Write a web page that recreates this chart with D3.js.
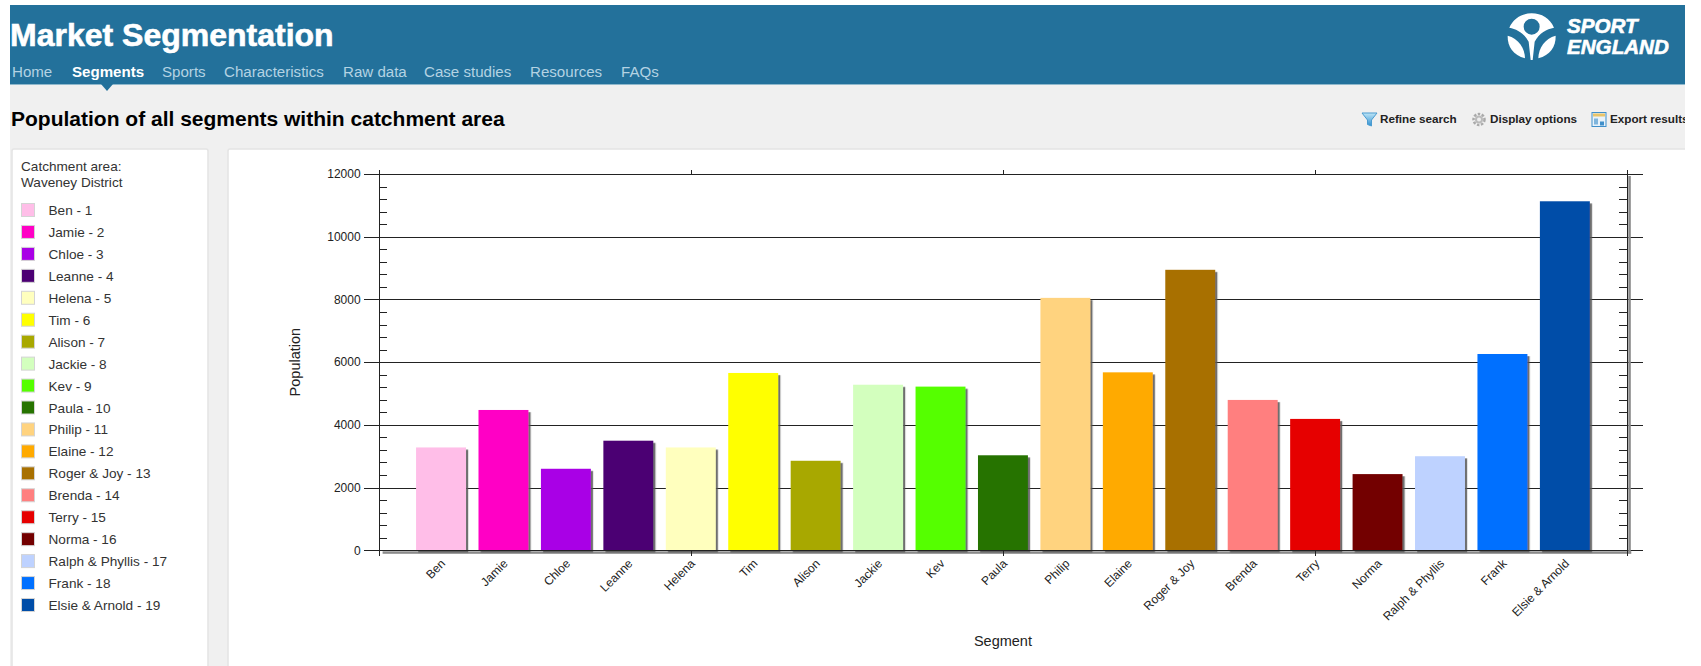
<!DOCTYPE html>
<html>
<head>
<meta charset="utf-8">
<title>Market Segmentation</title>
<script src="https://cdn.jsdelivr.net/npm/d3@7"></script>
<style>
	html, body { margin: 0; padding: 0; background: #fff; overflow: hidden; }
	text { font-family: "Liberation Sans", Arial, sans-serif; }
	.axis path, .axis line { stroke: #222; shape-rendering: crispEdges; }
	.axis text { font-size: 12px; fill: #222; }
</style>
</head>
<body>
<div id="page"></div>
<script>
// Chart data
const segments = ["Ben", "Jamie", "Chloe", "Leanne", "Helena", "Tim", "Alison", "Jackie", "Kev", "Paula",
	"Philip", "Elaine", "Roger & Joy", "Brenda", "Terry", "Norma", "Ralph & Phyllis", "Frank", "Elsie & Arnold"];
const population = [3280, 4475, 2600, 3495, 3280, 5655, 2855, 5280, 5220, 3030,
	8050, 5675, 8945, 4795, 4190, 2430, 3000, 6260, 11130];
const segmentColors = ["#ffbee8", "#ff00c5", "#a900e6", "#4c0073", "#ffffbe", "#ffff00", "#a8a800", "#d3ffbe", "#55ff00", "#267300",
	"#ffd37f", "#ffaa00", "#a87000", "#ff7f7f", "#e60000", "#730000", "#bed2ff", "#0070ff", "#004da8"];
const yMajorTicks = [0, 2000, 4000, 6000, 8000, 10000, 12000];
const yMinorTicks = [400, 800, 1200, 1600, 2400, 2800, 3200, 3600, 4400, 4800, 5200, 5600,
	6400, 6800, 7200, 7600, 8400, 8800, 9200, 9600, 10400, 10800, 11200, 11600];
const xMajorTicks = [0, 5, 10, 15, 20];
const navItems = ["Home", "Segments", "Sports", "Characteristics", "Raw data", "Case studies", "Resources", "FAQs"];
const navStarts = [12, 72, 162, 224, 343, 424, 530, 621];

const svg = d3.select("#page")
	.append("svg")
	.attr("width", 1701)
	.attr("height", 666)
	.style("display", "block");

const defs = svg.append("defs");

defs.append("filter")
	.attr("id", "barShadow")
	.attr("x", "-10%").attr("y", "-10%").attr("width", "125%").attr("height", "125%")
	.append("feDropShadow")
	.attr("dx", 2.2).attr("dy", 2.2).attr("stdDeviation", 0.7)
	.attr("flood-color", "#555").attr("flood-opacity", 0.85);

defs.append("clipPath")
	.attr("id", "pageClip")
	.append("rect")
	.attr("x", 10).attr("y", 5).attr("width", 1675).attr("height", 661);

defs.append("linearGradient")
	.attr("id", "funnelFill")
	.attr("x1", 0).attr("y1", 0).attr("x2", 0).attr("y2", 1)
	.selectAll("stop")
	.data([["0%", "#bfe6f7"], ["100%", "#2f8fd0"]])
	.enter()
	.append("stop")
	.attr("offset", d => d[0])
	.attr("stop-color", d => d[1]);

// ----------------------------
// Page furniture
// ----------------------------
const page = svg.append("g").attr("clip-path", "url(#pageClip)");

page.append("rect").attr("x", 10).attr("y", 84).attr("width", 1675).attr("height", 582).attr("fill", "#f0f0f0");
page.append("rect").attr("x", 10).attr("y", 5).attr("width", 1675).attr("height", 79).attr("fill", "#23719b");
page.append("rect").attr("x", 10).attr("y", 84).attr("width", 1675).attr("height", 1).attr("fill", "#8fb8cc");

page.append("text")
	.attr("x", 10).attr("y", 46)
	.attr("fill", "#fff")
	.attr("stroke", "#fff")
	.attr("stroke-width", 0.6)
	.attr("font-weight", "bold")
	.attr("font-size", 32)
	.text("Market Segmentation");

page.selectAll("text.nav")
	.data(navItems)
	.enter()
	.append("text")
	.attr("class", "nav")
	.attr("x", (d, i) => navStarts[i])
	.attr("y", 77)
	.attr("font-size", 15.1)
	.attr("font-weight", d => d === "Segments" ? "bold" : "normal")
	.attr("fill", d => d === "Segments" ? "#fff" : "#b4d3e3")
	.text(d => d);

// notch under the active menu item
page.append("path").attr("d", "M101,84 L113,84 L107,91 Z").attr("fill", "#23719b");

page.append("text")
	.attr("x", 11).attr("y", 126)
	.attr("font-weight", "bold")
	.attr("font-size", 21)
	.attr("fill", "#000")
	.text("Population of all segments within catchment area");

// Sport England logo
const logo = page.append("g").attr("transform", "translate(1490,5) scale(0.3333)").attr("fill", "#fff");
logo.append("path")
	.attr("fill-rule", "evenodd")
	.attr("d", "M58,68 C70,40 95,25 125,25 C155,25 180,40 192,68 C170,72 148,84 134,110 L128,165 L122,165 L116,110 C102,84 80,72 58,68 Z M149,65 A24,24 0 1 0 101,65 A24,24 0 1 0 149,65 Z");
logo.append("path").attr("d", "M53,92 C52,125 70,150 105,160 C105,130 85,100 53,92 Z");
logo.append("path").attr("d", "M197,92 C198,125 180,150 145,160 C145,130 165,100 197,92 Z");

page.selectAll("text.logo")
	.data([["SPORT", 33], ["ENGLAND", 54]])
	.enter()
	.append("text")
	.attr("class", "logo")
	.attr("x", 1567)
	.attr("y", d => d[1])
	.attr("fill", "#fff")
	.attr("stroke", "#fff")
	.attr("stroke-width", 0.6)
	.attr("font-size", 20.6)
	.attr("font-weight", "bold")
	.attr("font-style", "italic")
	.text(d => d[0]);

// Toolbar
page.selectAll("text.tool")
	.data([["Refine search", 1380], ["Display options", 1490], ["Export results", 1610]])
	.enter()
	.append("text")
	.attr("class", "tool")
	.attr("x", d => d[1])
	.attr("y", 123)
	.attr("font-size", 11.7)
	.attr("font-weight", "bold")
	.attr("fill", "#222")
	.text(d => d[0]);

page.append("path")
	.attr("d", "M1362,113 L1377,113 L1371.5,120 L1371.5,126 L1367.5,124.5 L1367.5,120 Z")
	.attr("fill", "url(#funnelFill)")
	.attr("stroke", "#4a9bd0");

const gear = page.append("g").attr("transform", "translate(1479,119.5)");
gear.append("circle").attr("r", 5.5).attr("fill", "none").attr("stroke", "#aaa").attr("stroke-width", 2.5).attr("stroke-dasharray", "2.5 1.5");
gear.append("circle").attr("r", 4).attr("fill", "#bbb");
gear.append("circle").attr("r", 2).attr("fill", "#eee");

const sheet = page.append("g").attr("transform", "translate(1592,112.5)");
sheet.append("rect").attr("width", 14).attr("height", 14).attr("fill", "#e8f2fa").attr("stroke", "#3f8fca");
sheet.append("rect").attr("x", 1).attr("y", 1).attr("width", 12).attr("height", 3).attr("fill", "#e8c46a");
sheet.append("rect").attr("x", 2).attr("y", 6).attr("width", 4).attr("height", 6).attr("fill", "#7fb5dc");
sheet.append("rect").attr("x", 8).attr("y", 9).attr("width", 4).attr("height", 4).attr("fill", "#3f8fca");

// Panels
page.selectAll("rect.panel")
	.data([[12, 196], [228, 1470]])
	.enter()
	.append("rect")
	.attr("class", "panel")
	.attr("x", d => d[0])
	.attr("y", 149)
	.attr("width", d => d[1])
	.attr("height", 530)
	.attr("rx", 2)
	.attr("fill", "#fff")
	.attr("stroke", "#e4e4e4")
	.attr("stroke-width", 1.5);

// ----------------------------
// Legend
// ----------------------------
const legend = page.append("g");

legend.selectAll("text.head")
	.data(["Catchment area:", "Waveney District"])
	.enter()
	.append("text")
	.attr("class", "head")
	.attr("x", 21)
	.attr("y", (d, i) => 171 + i * 16)
	.attr("font-size", 13.6)
	.attr("fill", "#333")
	.text(d => d);

const legendRow = d3.scaleLinear().domain([0, 18]).range([210, 605]);

const legendEntry = legend.selectAll("g.entry")
	.data(segments)
	.enter()
	.append("g")
	.attr("class", "entry")
	.attr("transform", (d, i) => "translate(0," + legendRow(i) + ")");

legendEntry.append("rect")
	.attr("x", 21.5).attr("y", -6.5)
	.attr("width", 13).attr("height", 13)
	.attr("fill", (d, i) => segmentColors[i])
	.attr("stroke", "#d4d4d4");

legendEntry.append("text")
	.attr("x", 48.5).attr("y", 5)
	.attr("font-size", 13.6)
	.attr("fill", "#333")
	.text((d, i) => d + " - " + (i + 1));

// ----------------------------
// Bar chart
// ----------------------------
const x = d3.scaleLinear().domain([0, 20]).range([378.6, 1627.3]);
const y = d3.scaleLinear().domain([0, 12000]).range([550.3, 174]);
const barWidth = (x(1) - x(0)) * 0.8;

const chart = svg.append("g");

// gridlines run past both axes
chart.append("g")
	.attr("class", "axis")
	.attr("transform", "translate(1643,0)")
	.call(d3.axisLeft(y).tickValues(yMajorTicks).tickSize(1279).tickSizeOuter(0).tickFormat(""))
	.call(g => g.select(".domain").remove());

// right axis shadow, along with the bottom one
chart.append("rect")
	.attr("x", x(20) + 1).attr("y", y(12000) + 2)
	.attr("width", 2.5).attr("height", y(0) - y(12000) + 1)
	.attr("fill", "#8a8a8a");
chart.append("rect")
	.attr("x", x(0) + 4).attr("y", y(0) + 1)
	.attr("width", x(20) - x(0)).attr("height", 2.5)
	.attr("fill", "#8a8a8a");

chart.selectAll("rect.bar")
	.data(population)
	.enter()
	.append("rect")
	.attr("class", "bar")
	.attr("x", (d, i) => x(i + 1) - barWidth / 2)
	.attr("y", d => y(d))
	.attr("width", barWidth)
	.attr("height", d => y(0) - y(d))
	.attr("fill", (d, i) => segmentColors[i])
	.attr("filter", "url(#barShadow)");

// left axis with labels
chart.append("g")
	.attr("class", "axis")
	.attr("transform", "translate(" + x(0) + ",0)")
	.call(d3.axisLeft(y).tickValues(yMajorTicks).tickSize(15).tickPadding(3).tickSizeOuter(0))
	.call(g => g.selectAll("text").text(d => d));

chart.append("g")
	.attr("class", "axis")
	.attr("transform", "translate(" + x(0) + ",0)")
	.call(d3.axisRight(y).tickValues(yMinorTicks).tickSize(8).tickSizeOuter(0).tickFormat(""))
	.call(g => g.select(".domain").remove());

chart.append("g")
	.attr("class", "axis")
	.attr("transform", "translate(" + x(20) + ",0)")
	.call(d3.axisLeft(y).tickValues(yMinorTicks).tickSize(8).tickSizeOuter(0).tickFormat(""));

// ticks at every fifth slot, top and bottom
chart.append("g")
	.attr("class", "axis")
	.attr("transform", "translate(0," + y(12000) + ")")
	.call(d3.axisTop(x).tickValues(xMajorTicks).tickSize(4).tickSizeOuter(0).tickFormat(""));

chart.append("g")
	.attr("class", "axis")
	.attr("transform", "translate(0," + y(0) + ")")
	.call(d3.axisBottom(x).tickValues(xMajorTicks).tickSize(6).tickSizeOuter(0).tickFormat(""));

chart.selectAll("text.xlabel")
	.data(segments)
	.enter()
	.append("text")
	.attr("class", "xlabel")
	.attr("text-anchor", "end")
	.attr("transform", (d, i) => "translate(" + (x(i + 1) + 5) + "," + (y(0) + 14) + ") rotate(-45)")
	.attr("font-size", 12)
	.attr("fill", "#222")
	.text(d => d);

chart.append("text")
	.attr("text-anchor", "middle")
	.attr("transform", "translate(300," + (y(6000)) + ") rotate(-90)")
	.attr("font-size", 14.5)
	.attr("fill", "#222")
	.text("Population");

chart.append("text")
	.attr("text-anchor", "middle")
	.attr("x", x(10))
	.attr("y", 645.5)
	.attr("font-size", 14.5)
	.attr("fill", "#222")
	.text("Segment");
</script>
</body>
</html>
